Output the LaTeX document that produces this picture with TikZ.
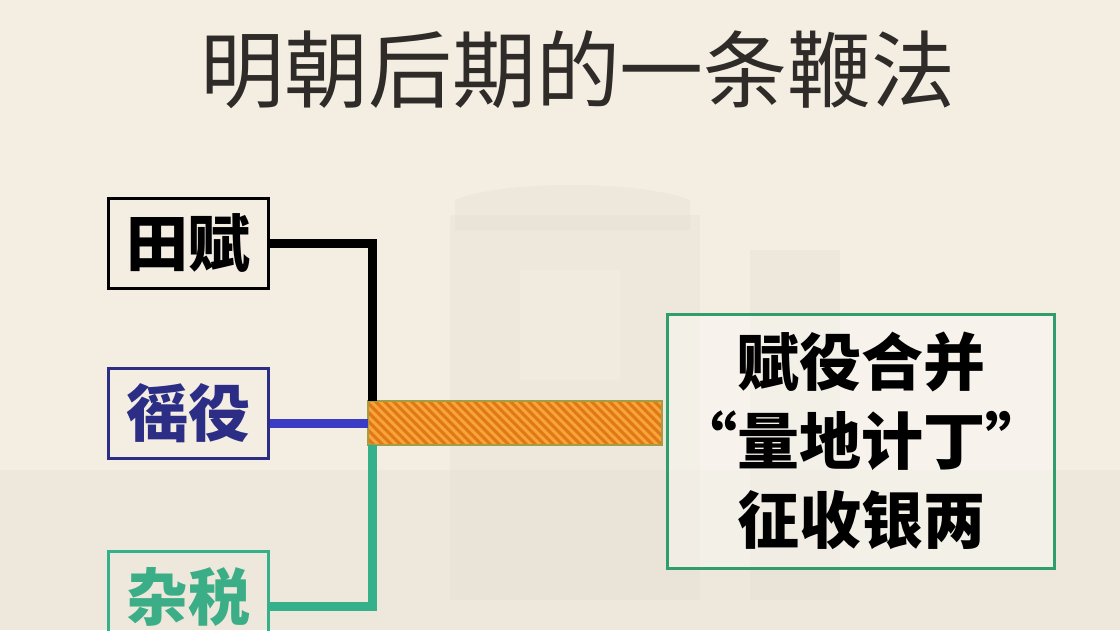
\documentclass[tikz,border=0pt]{standalone}
\usepackage{fontspec}
\newfontfamily\cjk{Noto Sans CJK SC}
\usetikzlibrary{calc}
\definecolor{bg}{HTML}{F4EEE2}
\definecolor{bgshade}{HTML}{E6DFD3}
\definecolor{navy}{HTML}{2C2E86}
\definecolor{bluel}{HTML}{3A3CC4}
\definecolor{teal}{HTML}{34B08A}
\definecolor{tealtxt}{HTML}{3BAE88}
\definecolor{resgreen}{HTML}{2F9E6C}
\definecolor{barfill}{HTML}{F7A43C}
\definecolor{barhatch}{HTML}{E07814}
\definecolor{barline}{HTML}{A39E45}
\definecolor{titlecol}{HTML}{2E2B28}
\tikzset{
  srcbox/.style={draw, line width=3pt, minimum width=160pt, minimum height=90pt,
    inner sep=0pt, font=\cjk\bfseries\fontsize{62}{64}\selectfont},
  link/.style={line width=9pt},
  resbox/.style={draw=resgreen, line width=3pt, fill=white, fill opacity=0.35,
    text opacity=1, minimum width=387pt, minimum height=254pt, inner sep=0pt,
    align=center, font=\cjk\bfseries\fontsize{62}{79}\selectfont},
}
\begin{document}
\begin{tikzpicture}[x=1pt,y=-1pt]
\useasboundingbox (0,0) rectangle (1120,630);
\fill[bg] (0,0) rectangle (1120,630);
\clip (0,0) rectangle (1120,630);
% faint background scenery
\begin{scope}[fill=bgshade, opacity=0.4]
  \fill (450,215) rectangle (700,600);
  \fill (455,200) .. controls (500,180) and (640,180) .. (690,200) -- (690,230) -- (455,230) -- cycle;
  \fill (750,250) rectangle (840,600);
  \fill (0,470) rectangle (1120,630);
\end{scope}
\begin{scope}[fill=bg, opacity=0.5]
  \fill (520,270) rectangle (620,380);
\end{scope}
% title
\node[text=titlecol, font=\cjk\fontsize{84}{88}\selectfont] (title) at (578,70) {明朝后期的一条鞭法};
% source boxes
\node[srcbox, draw=black, text=black] (tianfu) at (188,243) {田赋};
\node[srcbox, draw=navy, text=navy] (yaoyi) at (188,413) {徭役};
\node[srcbox, draw=teal, text=tealtxt, anchor=north] (zashui) at (188,550) {杂税};
% orange bar
\node[fill=barfill, minimum width=294pt, minimum height=44pt, inner sep=0pt] (bar) at (515,423) {};
\begin{scope}
  \clip (bar.north west) rectangle (bar.south east);
  \foreach \i in {330,339,...,670}
    \draw[barhatch, line width=3pt] (\i,401) -- (\i+44,445);
\end{scope}
\draw[barline, line width=1.5pt] (bar.north west) rectangle (bar.south east);
% result box
\node[resbox] (res) at (861,441) {赋役合并\\“量地计丁”\\征收银两};
% connectors
\coordinate (topin) at ($(bar.north west)+(5,0)$);
\coordinate (botin) at ($(bar.south west)+(5,0)$);
\draw[link, black] (tianfu.east) -| (topin);
\draw[link, bluel] (yaoyi.east |- bar.west) -- (bar.west);
\draw[link, teal] (zashui.east |- 0,606) -| (botin);
\end{tikzpicture}
\end{document}
